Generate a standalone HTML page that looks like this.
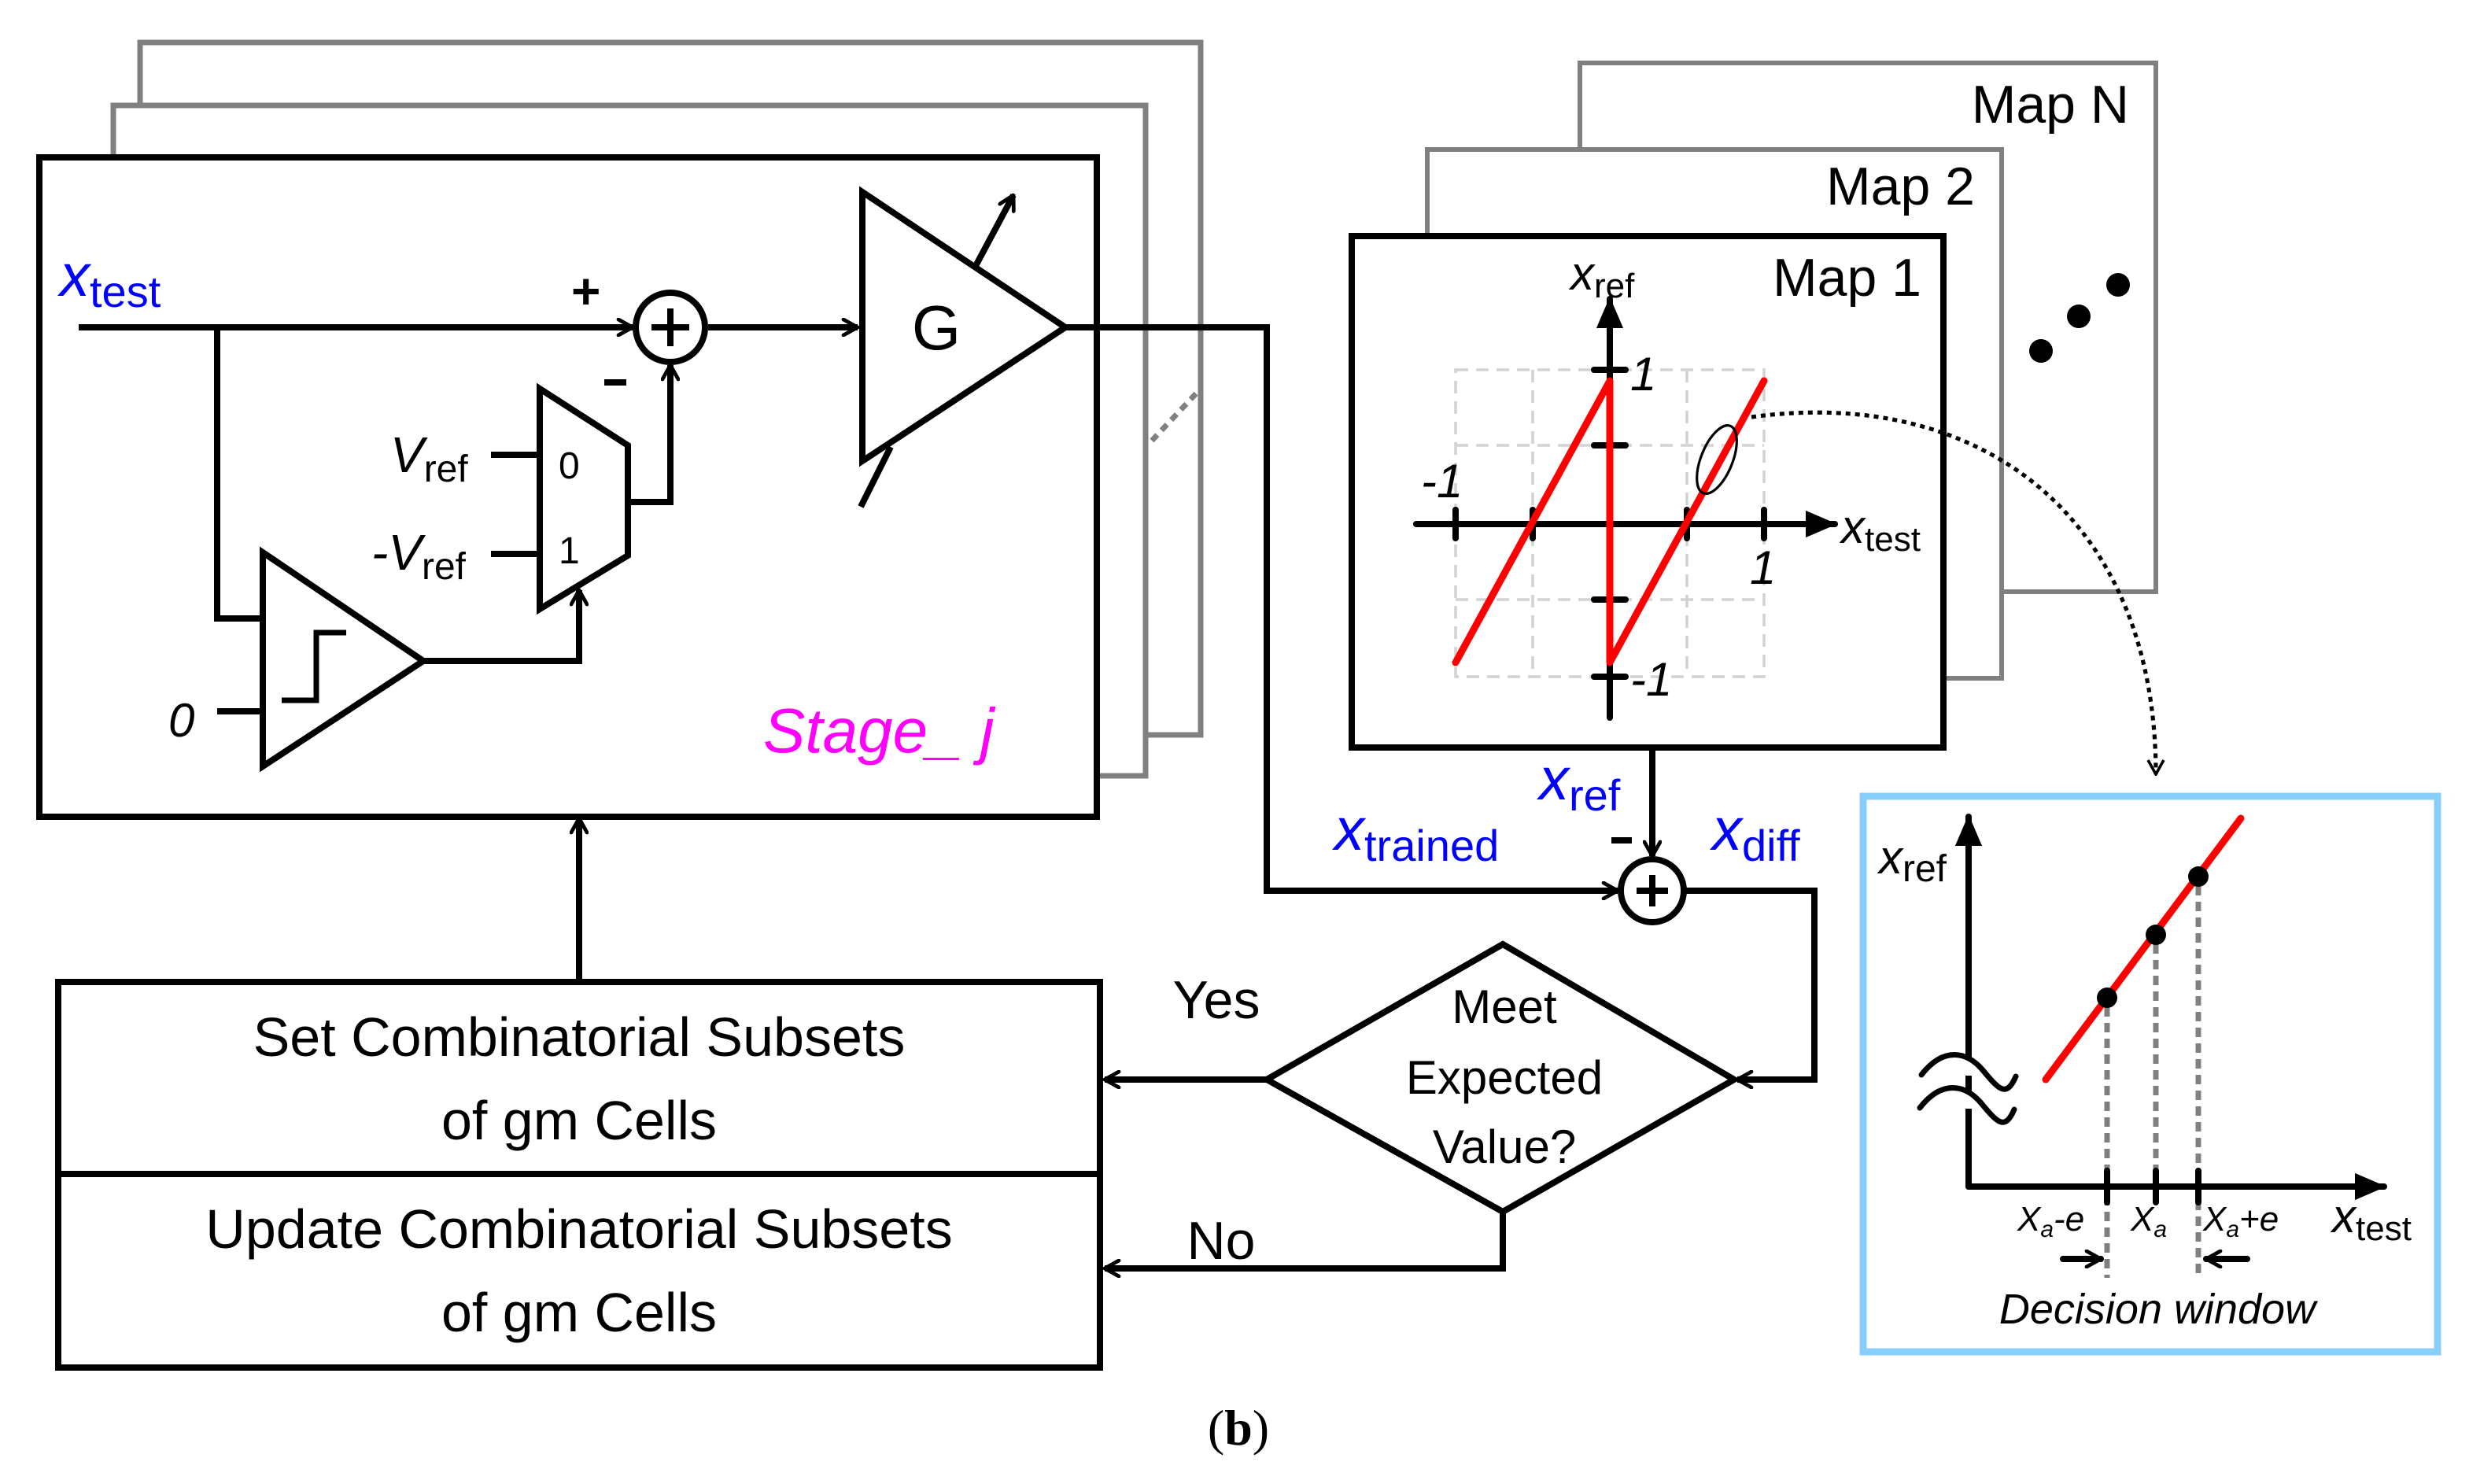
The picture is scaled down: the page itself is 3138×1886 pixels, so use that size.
<!DOCTYPE html>
<html><head><meta charset="utf-8"><style>
html,body{margin:0;padding:0;background:#fff;}
svg{display:block;}
text{font-family:"Liberation Sans",sans-serif;}
</style></head><body>
<svg width="3138" height="1886" viewBox="0 0 1569 943" xmlns="http://www.w3.org/2000/svg">
<defs>
<marker id="a" viewBox="0 0 12 12" refX="11" refY="6" markerWidth="12" markerHeight="12" markerUnits="userSpaceOnUse" orient="auto">
<path d="M2,1 L11,6 L2,11" fill="none" stroke="#000" stroke-width="2.4" stroke-linecap="round"/>
</marker>
<marker id="s" viewBox="0 0 14 14" refX="13" refY="7" markerWidth="20" markerHeight="20" markerUnits="userSpaceOnUse" orient="auto">
<path d="M0,1 L14,7 L0,13 Z" fill="#000"/>
</marker>
<marker id="d" viewBox="0 0 12 12" refX="11" refY="6" markerWidth="12" markerHeight="12" markerUnits="userSpaceOnUse" orient="auto">
<path d="M2,1 L11,6 L2,11" fill="none" stroke="#000" stroke-width="1.8"/>
</marker>
</defs>
<rect width="1569" height="943" fill="#fff"/>
<!-- stage stack -->
<rect x="89" y="27" width="674" height="440" fill="#fff" stroke="#808080" stroke-width="3.5"/>
<rect x="72" y="67" width="656" height="426" fill="#fff" stroke="#808080" stroke-width="3.5"/>
<line x1="732" y1="280" x2="762" y2="248" stroke="#808080" stroke-width="3.5" stroke-dasharray="5,4"/>
<rect x="25" y="100" width="672" height="419" fill="#fff" stroke="#000" stroke-width="4"/>
<g stroke="#000" stroke-width="4" fill="none" stroke-linejoin="miter">
<line x1="50" y1="208" x2="402" y2="208" marker-end="url(#a)"/>
<circle cx="426" cy="208" r="22"/>
<line x1="426" y1="196" x2="426" y2="220"/><line x1="414" y1="208" x2="438" y2="208"/>
<polyline points="138,208 138,393 167,393"/>
<line x1="138" y1="452" x2="167" y2="452"/>
<polygon points="167,351 167,487 269,420"/>
<polyline points="179,445 201,445 201,402 220,402" stroke-width="3.5"/>
<polyline points="269,420 368,420 368,375" marker-end="url(#a)"/>
<polygon points="343,247 399,283 399,353 343,387"/>
<line x1="312" y1="289" x2="343" y2="289"/><line x1="312" y1="352" x2="343" y2="352"/>
<polyline points="399,319 426,319 426,232" marker-end="url(#a)"/>
<line x1="450" y1="208" x2="545" y2="208" marker-end="url(#a)"/>
<polygon points="548,122 548,293 677,208"/>
<line x1="620" y1="169" x2="644" y2="124" marker-end="url(#a)"/>
<line x1="547" y1="322" x2="566" y2="284"/>
<polyline points="677,208 805,208 805,566 1028,566" marker-end="url(#a)"/>
<line x1="368" y1="624" x2="368" y2="520" marker-end="url(#a)"/>
</g>
<text x="363" y="196" font-size="32" font-weight="bold">+</text>
<line x1="384" y1="243" x2="398" y2="243" stroke="#000" stroke-width="4"/>
<text x="38" y="188" font-size="38" fill="#0000ff" font-style="italic">x<tspan font-size="28" font-style="normal" dy="7">test</tspan></text>
<text x="248" y="300" font-size="32" font-style="italic">V<tspan font-size="24" font-style="normal" dy="6">ref</tspan></text>
<text x="236" y="362" font-size="32" font-style="italic">-V<tspan font-size="24" font-style="normal" dy="6">ref</tspan></text>
<text x="355" y="304" font-size="24">0</text>
<text x="355" y="358" font-size="24">1</text>
<text x="107" y="468" font-size="30" font-style="italic">0</text>
<text x="595" y="222" font-size="40" text-anchor="middle">G</text>
<text x="485" y="478" font-size="40" fill="#ff00ff" font-style="italic">Stage_ j</text>
<!-- maps -->
<rect x="1004" y="40" width="366" height="336" fill="#fff" stroke="#808080" stroke-width="3"/>
<rect x="907" y="95" width="365" height="336" fill="#fff" stroke="#808080" stroke-width="3"/>
<rect x="859" y="150" width="376" height="325" fill="#fff" stroke="#000" stroke-width="4"/>
<text x="1353" y="78" font-size="34" text-anchor="end">Map N</text>
<text x="1255" y="130" font-size="34" text-anchor="end">Map 2</text>
<text x="1221" y="188" font-size="34" text-anchor="end">Map 1</text>
<circle cx="1297" cy="223" r="7.5"/><circle cx="1321" cy="201" r="7.5"/><circle cx="1346" cy="181" r="7.5"/>
<g stroke="#d3d3d3" stroke-width="1.8" stroke-dasharray="8,5" fill="none">
<rect x="925" y="235" width="196" height="195"/>
<line x1="974" y1="235" x2="974" y2="430"/><line x1="1072" y1="235" x2="1072" y2="430"/>
<line x1="925" y1="283" x2="1121" y2="283"/><line x1="925" y1="381" x2="1121" y2="381"/>
</g>
<g stroke="#000" stroke-width="4" stroke-linecap="round">
<line x1="1023" y1="456" x2="1023" y2="190" marker-end="url(#s)"/>
<line x1="900" y1="333" x2="1166" y2="333" marker-end="url(#s)"/>
<line x1="1013" y1="235" x2="1033" y2="235"/><line x1="1013" y1="283" x2="1033" y2="283"/>
<line x1="1013" y1="381" x2="1033" y2="381"/><line x1="1013" y1="430" x2="1033" y2="430"/>
<line x1="925" y1="324" x2="925" y2="342"/><line x1="974" y1="324" x2="974" y2="342"/>
<line x1="1072" y1="324" x2="1072" y2="342"/><line x1="1121" y1="324" x2="1121" y2="342"/>
</g>
<polyline points="925,421 1023,242 1023,421 1121,242" fill="none" stroke="#ff0000" stroke-width="4.5" stroke-linecap="round" stroke-linejoin="round"/>
<ellipse cx="1091" cy="292" rx="10" ry="23" transform="rotate(22 1091 292)" fill="none" stroke="#000" stroke-width="1.6"/>
<path d="M1113,265 C1260,245 1370,330 1370,492" fill="none" stroke="#000" stroke-width="2.6" stroke-dasharray="3,3" marker-end="url(#d)"/>
<text x="1036" y="248" font-size="30" font-style="italic">1</text>
<text x="903" y="316" font-size="30" font-style="italic">-1</text>
<text x="1112" y="371" font-size="30" font-style="italic">1</text>
<text x="1036" y="442" font-size="30" font-style="italic">-1</text>
<text x="998" y="184" font-size="30" font-style="italic">x<tspan font-size="22" font-style="normal" dy="5">ref</tspan></text>
<text x="1170" y="345" font-size="30" font-style="italic">x<tspan font-size="22" font-style="normal" dy="5">test</tspan></text>
<!-- lower right flow -->
<g stroke="#000" stroke-width="4" fill="none">
<line x1="1050" y1="475" x2="1050" y2="544" marker-end="url(#a)"/>
<circle cx="1050" cy="566" r="20"/>
<line x1="1050" y1="556" x2="1050" y2="576"/><line x1="1040" y1="566" x2="1060" y2="566"/>
<polyline points="1070,566 1153,566 1153,686 1104,686" marker-end="url(#a)"/>
<polygon points="955,600 1102,686 955,770 805,686"/>
<line x1="805" y1="686" x2="702" y2="686" marker-end="url(#a)"/>
<polyline points="955,770 955,806 702,806" marker-end="url(#a)"/>
</g>
<line x1="1024" y1="534" x2="1037" y2="534" stroke="#000" stroke-width="4"/>
<text x="978" y="508" font-size="38" fill="#0000ff" font-style="italic">x<tspan font-size="28" font-style="normal" dy="7">ref</tspan></text>
<text x="848" y="540" font-size="38" fill="#0000ff" font-style="italic">x<tspan font-size="28" font-style="normal" dy="7">trained</tspan></text>
<text x="1088" y="540" font-size="38" fill="#0000ff" font-style="italic">x<tspan font-size="28" font-style="normal" dy="7">diff</tspan></text>
<text x="956" y="650" font-size="30" text-anchor="middle">Meet</text>
<text x="956" y="695" font-size="30" text-anchor="middle">Expected</text>
<text x="956" y="739" font-size="30" text-anchor="middle">Value?</text>
<text x="773" y="647" font-size="34" text-anchor="middle">Yes</text>
<text x="776" y="800" font-size="34" text-anchor="middle">No</text>
<!-- bottom box -->
<rect x="37" y="624" width="662" height="245" fill="none" stroke="#000" stroke-width="4"/>
<line x1="37" y1="746" x2="699" y2="746" stroke="#000" stroke-width="4"/>
<g font-size="35" text-anchor="middle">
<text x="368" y="671">Set Combinatorial Subsets</text>
<text x="368" y="724">of gm Cells</text>
<text x="368" y="793">Update Combinatorial Subsets</text>
<text x="368" y="846">of gm Cells</text>
</g>
<text x="787" y="918" font-size="32" text-anchor="middle" style="font-family:'Liberation Serif',serif">(<tspan font-weight="bold">b</tspan>)</text>
<!-- decision window -->
<rect x="1184" y="506" width="365" height="353" fill="#fff" stroke="#87cefa" stroke-width="4.5"/>
<g stroke="#808080" stroke-width="3.5" stroke-dasharray="6,4">
<line x1="1339" y1="640" x2="1339" y2="812"/><line x1="1370" y1="600" x2="1370" y2="760"/><line x1="1397" y1="563" x2="1397" y2="812"/>
</g>
<g stroke="#000" stroke-width="4" fill="none" stroke-linecap="round">
<line x1="1251" y1="754" x2="1251" y2="519" marker-end="url(#s)"/>
<line x1="1251" y1="754" x2="1515" y2="754" marker-end="url(#s)"/>
<line x1="1339" y1="744" x2="1339" y2="764"/><line x1="1370" y1="744" x2="1370" y2="764"/><line x1="1397" y1="744" x2="1397" y2="764"/>
<path d="M1221,683 C1235,665 1250,668 1260,680 S1275,698 1281,684" stroke-width="3.5" fill="#fff"/>
<path d="M1220,704 C1234,686 1249,689 1259,701 S1274,719 1280,705" stroke-width="3.5" fill="#fff"/>
<line x1="1311" y1="800" x2="1335" y2="800" marker-end="url(#a)"/>
<line x1="1428" y1="800" x2="1402" y2="800" marker-end="url(#a)"/>
</g>
<line x1="1300" y1="686" x2="1424" y2="520" stroke="#ff0000" stroke-width="4.5" stroke-linecap="round"/>
<circle cx="1339" cy="634" r="6.5"/><circle cx="1370" cy="594" r="6.5"/><circle cx="1397" cy="557" r="6.5"/>
<text x="1194" y="555" font-size="30" font-style="italic">x<tspan font-size="24" font-style="normal" dy="5">ref</tspan></text>
<text x="1482" y="783" font-size="30" font-style="italic">x<tspan font-size="22" font-style="normal" dy="5">test</tspan></text>
<text x="1282" y="782" font-size="22" font-style="italic">X<tspan font-size="15" dy="4">a</tspan><tspan dy="-4">-e</tspan></text>
<text x="1354" y="782" font-size="22" font-style="italic">X<tspan font-size="15" dy="4">a</tspan></text>
<text x="1400" y="782" font-size="22" font-style="italic">X<tspan font-size="15" dy="4">a</tspan><tspan dy="-4">+e</tspan></text>
<text x="1371" y="841" font-size="27" font-style="italic" text-anchor="middle">Decision window</text>
</svg>
</body></html>
